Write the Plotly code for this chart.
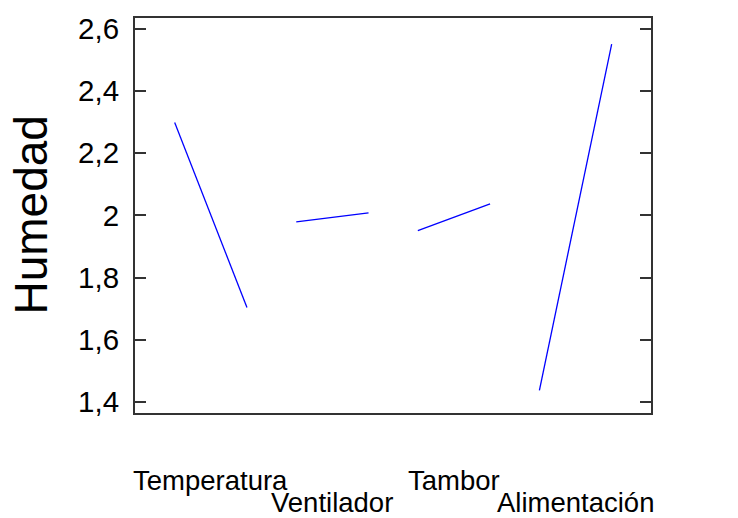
import plotly.graph_objects as go

# Main effects of each factor on moisture (mean response at low / high level)
factors = ["Temperatura", "Ventilador", "Tambor", "Alimentación"]
low_means = [2.298, 1.979, 1.951, 1.438]
high_means = [1.704, 2.008, 2.037, 2.550]
tick_values = [1.4, 1.6, 1.8, 2.0, 2.2, 2.4, 2.6]
tick_labels = ["1,4", "1,6", "1,8", "2", "2,2", "2,4", "2,6"]

# horizontal layout: each factor occupies one unit, separated by a gap
period = 1.682
FONT = "Arial, Liberation Sans, sans-serif"

fig = go.Figure()
for i, (lo, hi) in enumerate(zip(low_means, high_means)):
    x0 = i * period
    fig.add_trace(go.Scatter(
        x=[x0, x0 + 1], y=[lo, hi], mode="lines",
        line=dict(color="#0000FF", width=1.3),
        showlegend=False, hoverinfo="skip",
    ))

# staggered factor labels under the frame
for i, name in enumerate(factors):
    fig.add_annotation(
        x=i * period + 0.5, xref="x", y=0, yref="paper",
        text=name, showarrow=False, xanchor="center", yanchor="middle",
        yshift=-67 if i % 2 == 0 else -89,
        font=dict(family=FONT, size=27.5, color="#000000"),
    )

# y-axis title
fig.add_annotation(
    x=0, xref="paper", xshift=-105, xanchor="center",
    y=0.5, yref="paper", yanchor="middle",
    text="Humedad", textangle=-90, showarrow=False,
    font=dict(family=FONT, size=46, color="#000000"),
)

fig.update_layout(
    width=738, height=518,
    margin=dict(l=135, r=87, t=12, b=105),
    paper_bgcolor="white", plot_bgcolor="white",
    font=dict(family=FONT, color="#000000"),
)
fig.update_xaxes(
    range=[-0.549, 3 * period + 1 + 0.544],
    showgrid=False, zeroline=False, showticklabels=False, ticks="",
    showline=True, mirror=True, linecolor="#333333", linewidth=2,
)
fig.update_yaxes(
    range=[1.365, 2.634],
    tickvals=tick_values, ticktext=tick_labels,
    ticks="inside", ticklen=11, tickwidth=2, tickcolor="#333333",
    tickfont=dict(family=FONT, size=29.5, color="#000000"),
    ticklabelstandoff=8,
    showgrid=False, zeroline=False,
    showline=True, mirror="ticks", linecolor="#333333", linewidth=2,
)

fig.write_html("out.html")
